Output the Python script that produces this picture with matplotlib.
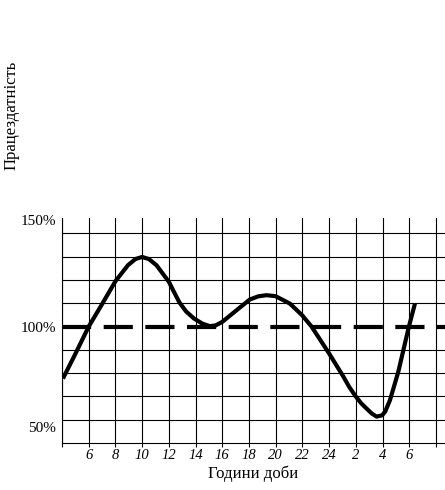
import matplotlib
matplotlib.use("Agg")
import matplotlib.pyplot as plt

# hours of the day (continuing past midnight: 26 = 2 o'clock, 28 = 4 ...)
hours = [4.07, 4.95, 6.0, 6.95, 8.0, 8.94, 9.5, 10.0, 10.5, 11.07, 12.0, 12.4,
         12.8, 13.3, 13.88, 14.5, 15.06, 15.5, 16.0, 17.06, 18.06, 18.7, 19.3,
         19.98, 21.06, 21.98, 22.68, 24.0, 25.05, 25.5, 25.98, 26.4, 26.8, 27.2,
         27.55, 27.97, 28.2, 28.55, 29.17, 29.67, 29.97, 30.42]
capacity = [72.1, 84.6, 100.0, 111.4, 124.3, 132.9, 136.2, 137.3, 136.2, 132.9,
            124.0, 118.3, 112.8, 108.0, 104.3, 101.6, 100.2, 100.6, 102.5, 108.7,
            114.5, 116.2, 116.8, 116.3, 112.3, 106.0, 100.0, 85.5, 73.3, 67.6,
            62.6, 58.8, 56.0, 53.3, 51.7, 52.4, 54.5, 60.5, 75.6, 90.9, 100.0,
            112.3]

grid_x = list(range(4, 33, 2))
tick_labels = ["", "6", "8", "10", "12", "14", "16", "18", "20", "22", "24",
               "2", "4", "6", ""]
grid_y = [50, 62.5, 75, 87.5, 112.5, 125, 137.5, 150]
ytick_pos = [157.3, 100, 46.3]
ytick_labels = ["150%", "100%", "50%"]

plt.rcParams["font.family"] = ["Liberation Serif", "DejaVu Serif"]

fig = plt.figure(figsize=(4.45, 4.9), dpi=100)
ax = fig.add_axes([0.1393, 0.0969, 0.8607, 0.4582])

ax.set_xlim(4, 32.67)
ax.set_ylim(37.8, 158.2)

for gx in grid_x:
    ax.axvline(gx, color="black", linewidth=0.8, zorder=1)
for gy in grid_y:
    ax.axhline(gy, color="black", linewidth=0.8, zorder=1)

ax.axhline(100, color="black", linewidth=3, dashes=(7, 3), zorder=2)
ax.plot(hours, capacity, color="black", linewidth=3, solid_capstyle="butt",
        solid_joinstyle="round", zorder=3)

ax.set_xticks(grid_x)
ax.set_xticklabels(tick_labels, fontstyle="italic", fontsize=10.5)
ax.tick_params(axis="x", length=3, width=0.8, pad=2)
ax.set_yticks(ytick_pos)
ax.set_yticklabels(ytick_labels, fontsize=11)
ax.tick_params(axis="y", length=0, pad=4)

for side in ["top", "right"]:
    ax.spines[side].set_visible(False)
for side in ["left", "bottom"]:
    ax.spines[side].set_linewidth(0.8)

ax.set_xlabel("Години доби", fontsize=12, labelpad=2)
fig.text(0.027, 0.765, "Працездатність", rotation=90, fontsize=12,
         ha="center", va="center")

fig.savefig("out.png", dpi=100)
